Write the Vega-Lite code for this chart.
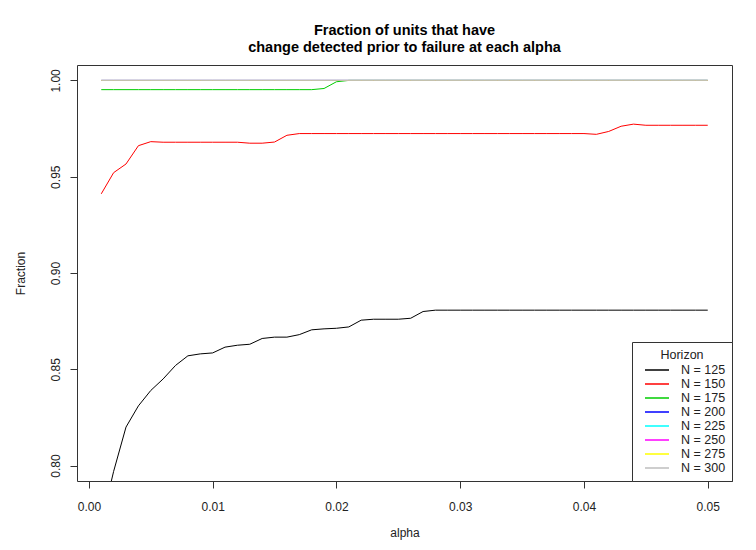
{
  "$schema": "https://vega.github.io/schema/vega-lite/v6.json",
  "width": 655,
  "height": 416,
  "autosize": {"type": "none"},
  "padding": {"left": 77, "top": 65, "right": 24, "bottom": 69},
  "background": "white",
  "title": {
    "text": ["Fraction of units that have", "change detected prior to failure at each alpha"],
    "font": "Liberation Sans", "fontSize": 14.5, "fontWeight": "bold", "color": "black",
    "anchor": "middle", "lineHeight": 17, "offset": 10
  },
  "data": {"values": [
    {"alpha":0.001,"N":"N = 125","fraction":0.770},{"alpha":0.002,"N":"N = 125","fraction":0.797},{"alpha":0.003,"N":"N = 125","fraction":0.820},{"alpha":0.004,"N":"N = 125","fraction":0.831},{"alpha":0.005,"N":"N = 125","fraction":0.839},
    {"alpha":0.006,"N":"N = 125","fraction":0.845},{"alpha":0.007,"N":"N = 125","fraction":0.852},{"alpha":0.008,"N":"N = 125","fraction":0.857},{"alpha":0.009,"N":"N = 125","fraction":0.858},{"alpha":0.010,"N":"N = 125","fraction":0.8585},
    {"alpha":0.011,"N":"N = 125","fraction":0.8615},{"alpha":0.012,"N":"N = 125","fraction":0.8625},{"alpha":0.013,"N":"N = 125","fraction":0.863},{"alpha":0.014,"N":"N = 125","fraction":0.866},{"alpha":0.015,"N":"N = 125","fraction":0.8667},
    {"alpha":0.016,"N":"N = 125","fraction":0.8667},{"alpha":0.017,"N":"N = 125","fraction":0.868},{"alpha":0.018,"N":"N = 125","fraction":0.8705},{"alpha":0.019,"N":"N = 125","fraction":0.871},{"alpha":0.020,"N":"N = 125","fraction":0.8713},
    {"alpha":0.021,"N":"N = 125","fraction":0.872},{"alpha":0.022,"N":"N = 125","fraction":0.8755},{"alpha":0.023,"N":"N = 125","fraction":0.876},{"alpha":0.024,"N":"N = 125","fraction":0.876},{"alpha":0.025,"N":"N = 125","fraction":0.876},
    {"alpha":0.026,"N":"N = 125","fraction":0.8765},{"alpha":0.027,"N":"N = 125","fraction":0.880},{"alpha":0.028,"N":"N = 125","fraction":0.8807},{"alpha":0.029,"N":"N = 125","fraction":0.8807},{"alpha":0.030,"N":"N = 125","fraction":0.8807},
    {"alpha":0.031,"N":"N = 125","fraction":0.8807},{"alpha":0.032,"N":"N = 125","fraction":0.8807},{"alpha":0.033,"N":"N = 125","fraction":0.8807},{"alpha":0.034,"N":"N = 125","fraction":0.8807},{"alpha":0.035,"N":"N = 125","fraction":0.8807},
    {"alpha":0.036,"N":"N = 125","fraction":0.8807},{"alpha":0.037,"N":"N = 125","fraction":0.8807},{"alpha":0.038,"N":"N = 125","fraction":0.8807},{"alpha":0.039,"N":"N = 125","fraction":0.8807},{"alpha":0.040,"N":"N = 125","fraction":0.8807},
    {"alpha":0.041,"N":"N = 125","fraction":0.8807},{"alpha":0.042,"N":"N = 125","fraction":0.8807},{"alpha":0.043,"N":"N = 125","fraction":0.8807},{"alpha":0.044,"N":"N = 125","fraction":0.8807},{"alpha":0.045,"N":"N = 125","fraction":0.8807},
    {"alpha":0.046,"N":"N = 125","fraction":0.8807},{"alpha":0.047,"N":"N = 125","fraction":0.8807},{"alpha":0.048,"N":"N = 125","fraction":0.8807},{"alpha":0.049,"N":"N = 125","fraction":0.8807},{"alpha":0.050,"N":"N = 125","fraction":0.8807},

    {"alpha":0.001,"N":"N = 150","fraction":0.9411},{"alpha":0.002,"N":"N = 150","fraction":0.9521},{"alpha":0.003,"N":"N = 150","fraction":0.9566},{"alpha":0.004,"N":"N = 150","fraction":0.9661},{"alpha":0.005,"N":"N = 150","fraction":0.9682},
    {"alpha":0.006,"N":"N = 150","fraction":0.9679},{"alpha":0.007,"N":"N = 150","fraction":0.9679},{"alpha":0.008,"N":"N = 150","fraction":0.9679},{"alpha":0.009,"N":"N = 150","fraction":0.9679},{"alpha":0.010,"N":"N = 150","fraction":0.9679},
    {"alpha":0.011,"N":"N = 150","fraction":0.9679},{"alpha":0.012,"N":"N = 150","fraction":0.9679},{"alpha":0.013,"N":"N = 150","fraction":0.9674},{"alpha":0.014,"N":"N = 150","fraction":0.9674},{"alpha":0.015,"N":"N = 150","fraction":0.968},
    {"alpha":0.016,"N":"N = 150","fraction":0.9715},{"alpha":0.017,"N":"N = 150","fraction":0.9724},{"alpha":0.018,"N":"N = 150","fraction":0.9724},{"alpha":0.019,"N":"N = 150","fraction":0.9724},{"alpha":0.020,"N":"N = 150","fraction":0.9724},
    {"alpha":0.021,"N":"N = 150","fraction":0.9724},{"alpha":0.022,"N":"N = 150","fraction":0.9724},{"alpha":0.023,"N":"N = 150","fraction":0.9724},{"alpha":0.024,"N":"N = 150","fraction":0.9724},{"alpha":0.025,"N":"N = 150","fraction":0.9724},
    {"alpha":0.026,"N":"N = 150","fraction":0.9724},{"alpha":0.027,"N":"N = 150","fraction":0.9724},{"alpha":0.028,"N":"N = 150","fraction":0.9724},{"alpha":0.029,"N":"N = 150","fraction":0.9724},{"alpha":0.030,"N":"N = 150","fraction":0.9724},
    {"alpha":0.031,"N":"N = 150","fraction":0.9724},{"alpha":0.032,"N":"N = 150","fraction":0.9724},{"alpha":0.033,"N":"N = 150","fraction":0.9724},{"alpha":0.034,"N":"N = 150","fraction":0.9724},{"alpha":0.035,"N":"N = 150","fraction":0.9724},
    {"alpha":0.036,"N":"N = 150","fraction":0.9724},{"alpha":0.037,"N":"N = 150","fraction":0.9724},{"alpha":0.038,"N":"N = 150","fraction":0.9724},{"alpha":0.039,"N":"N = 150","fraction":0.9724},{"alpha":0.040,"N":"N = 150","fraction":0.9724},
    {"alpha":0.041,"N":"N = 150","fraction":0.972},{"alpha":0.042,"N":"N = 150","fraction":0.9735},{"alpha":0.043,"N":"N = 150","fraction":0.9762},{"alpha":0.044,"N":"N = 150","fraction":0.9773},{"alpha":0.045,"N":"N = 150","fraction":0.9767},
    {"alpha":0.046,"N":"N = 150","fraction":0.9767},{"alpha":0.047,"N":"N = 150","fraction":0.9767},{"alpha":0.048,"N":"N = 150","fraction":0.9767},{"alpha":0.049,"N":"N = 150","fraction":0.9767},{"alpha":0.050,"N":"N = 150","fraction":0.9767},

    {"alpha":0.001,"N":"N = 175","fraction":0.9952},{"alpha":0.002,"N":"N = 175","fraction":0.9952},{"alpha":0.003,"N":"N = 175","fraction":0.9952},{"alpha":0.004,"N":"N = 175","fraction":0.9952},{"alpha":0.005,"N":"N = 175","fraction":0.9952},
    {"alpha":0.006,"N":"N = 175","fraction":0.9952},{"alpha":0.007,"N":"N = 175","fraction":0.9952},{"alpha":0.008,"N":"N = 175","fraction":0.9952},{"alpha":0.009,"N":"N = 175","fraction":0.9952},{"alpha":0.010,"N":"N = 175","fraction":0.9952},
    {"alpha":0.011,"N":"N = 175","fraction":0.9952},{"alpha":0.012,"N":"N = 175","fraction":0.9952},{"alpha":0.013,"N":"N = 175","fraction":0.9952},{"alpha":0.014,"N":"N = 175","fraction":0.9952},{"alpha":0.015,"N":"N = 175","fraction":0.9952},
    {"alpha":0.016,"N":"N = 175","fraction":0.9952},{"alpha":0.017,"N":"N = 175","fraction":0.9952},{"alpha":0.018,"N":"N = 175","fraction":0.9952},{"alpha":0.019,"N":"N = 175","fraction":0.9958},{"alpha":0.020,"N":"N = 175","fraction":0.9993},
    {"alpha":0.021,"N":"N = 175","fraction":1.0},{"alpha":0.022,"N":"N = 175","fraction":1.0},{"alpha":0.023,"N":"N = 175","fraction":1.0},{"alpha":0.024,"N":"N = 175","fraction":1.0},{"alpha":0.025,"N":"N = 175","fraction":1.0},
    {"alpha":0.026,"N":"N = 175","fraction":1.0},{"alpha":0.027,"N":"N = 175","fraction":1.0},{"alpha":0.028,"N":"N = 175","fraction":1.0},{"alpha":0.029,"N":"N = 175","fraction":1.0},{"alpha":0.030,"N":"N = 175","fraction":1.0},
    {"alpha":0.031,"N":"N = 175","fraction":1.0},{"alpha":0.032,"N":"N = 175","fraction":1.0},{"alpha":0.033,"N":"N = 175","fraction":1.0},{"alpha":0.034,"N":"N = 175","fraction":1.0},{"alpha":0.035,"N":"N = 175","fraction":1.0},
    {"alpha":0.036,"N":"N = 175","fraction":1.0},{"alpha":0.037,"N":"N = 175","fraction":1.0},{"alpha":0.038,"N":"N = 175","fraction":1.0},{"alpha":0.039,"N":"N = 175","fraction":1.0},{"alpha":0.040,"N":"N = 175","fraction":1.0},
    {"alpha":0.041,"N":"N = 175","fraction":1.0},{"alpha":0.042,"N":"N = 175","fraction":1.0},{"alpha":0.043,"N":"N = 175","fraction":1.0},{"alpha":0.044,"N":"N = 175","fraction":1.0},{"alpha":0.045,"N":"N = 175","fraction":1.0},
    {"alpha":0.046,"N":"N = 175","fraction":1.0},{"alpha":0.047,"N":"N = 175","fraction":1.0},{"alpha":0.048,"N":"N = 175","fraction":1.0},{"alpha":0.049,"N":"N = 175","fraction":1.0},{"alpha":0.050,"N":"N = 175","fraction":1.0},

    {"alpha":0.001,"N":"N = 200","fraction":1.0},{"alpha":0.002,"N":"N = 200","fraction":1.0},{"alpha":0.003,"N":"N = 200","fraction":1.0},{"alpha":0.004,"N":"N = 200","fraction":1.0},{"alpha":0.005,"N":"N = 200","fraction":1.0},
    {"alpha":0.006,"N":"N = 200","fraction":1.0},{"alpha":0.007,"N":"N = 200","fraction":1.0},{"alpha":0.008,"N":"N = 200","fraction":1.0},{"alpha":0.009,"N":"N = 200","fraction":1.0},{"alpha":0.010,"N":"N = 200","fraction":1.0},
    {"alpha":0.011,"N":"N = 200","fraction":1.0},{"alpha":0.012,"N":"N = 200","fraction":1.0},{"alpha":0.013,"N":"N = 200","fraction":1.0},{"alpha":0.014,"N":"N = 200","fraction":1.0},{"alpha":0.015,"N":"N = 200","fraction":1.0},
    {"alpha":0.016,"N":"N = 200","fraction":1.0},{"alpha":0.017,"N":"N = 200","fraction":1.0},{"alpha":0.018,"N":"N = 200","fraction":1.0},{"alpha":0.019,"N":"N = 200","fraction":1.0},{"alpha":0.020,"N":"N = 200","fraction":1.0},
    {"alpha":0.021,"N":"N = 200","fraction":1.0},{"alpha":0.022,"N":"N = 200","fraction":1.0},{"alpha":0.023,"N":"N = 200","fraction":1.0},{"alpha":0.024,"N":"N = 200","fraction":1.0},{"alpha":0.025,"N":"N = 200","fraction":1.0},
    {"alpha":0.026,"N":"N = 200","fraction":1.0},{"alpha":0.027,"N":"N = 200","fraction":1.0},{"alpha":0.028,"N":"N = 200","fraction":1.0},{"alpha":0.029,"N":"N = 200","fraction":1.0},{"alpha":0.030,"N":"N = 200","fraction":1.0},
    {"alpha":0.031,"N":"N = 200","fraction":1.0},{"alpha":0.032,"N":"N = 200","fraction":1.0},{"alpha":0.033,"N":"N = 200","fraction":1.0},{"alpha":0.034,"N":"N = 200","fraction":1.0},{"alpha":0.035,"N":"N = 200","fraction":1.0},
    {"alpha":0.036,"N":"N = 200","fraction":1.0},{"alpha":0.037,"N":"N = 200","fraction":1.0},{"alpha":0.038,"N":"N = 200","fraction":1.0},{"alpha":0.039,"N":"N = 200","fraction":1.0},{"alpha":0.040,"N":"N = 200","fraction":1.0},
    {"alpha":0.041,"N":"N = 200","fraction":1.0},{"alpha":0.042,"N":"N = 200","fraction":1.0},{"alpha":0.043,"N":"N = 200","fraction":1.0},{"alpha":0.044,"N":"N = 200","fraction":1.0},{"alpha":0.045,"N":"N = 200","fraction":1.0},
    {"alpha":0.046,"N":"N = 200","fraction":1.0},{"alpha":0.047,"N":"N = 200","fraction":1.0},{"alpha":0.048,"N":"N = 200","fraction":1.0},{"alpha":0.049,"N":"N = 200","fraction":1.0},{"alpha":0.050,"N":"N = 200","fraction":1.0},

    {"alpha":0.001,"N":"N = 225","fraction":1.0},{"alpha":0.002,"N":"N = 225","fraction":1.0},{"alpha":0.003,"N":"N = 225","fraction":1.0},{"alpha":0.004,"N":"N = 225","fraction":1.0},{"alpha":0.005,"N":"N = 225","fraction":1.0},
    {"alpha":0.006,"N":"N = 225","fraction":1.0},{"alpha":0.007,"N":"N = 225","fraction":1.0},{"alpha":0.008,"N":"N = 225","fraction":1.0},{"alpha":0.009,"N":"N = 225","fraction":1.0},{"alpha":0.010,"N":"N = 225","fraction":1.0},
    {"alpha":0.011,"N":"N = 225","fraction":1.0},{"alpha":0.012,"N":"N = 225","fraction":1.0},{"alpha":0.013,"N":"N = 225","fraction":1.0},{"alpha":0.014,"N":"N = 225","fraction":1.0},{"alpha":0.015,"N":"N = 225","fraction":1.0},
    {"alpha":0.016,"N":"N = 225","fraction":1.0},{"alpha":0.017,"N":"N = 225","fraction":1.0},{"alpha":0.018,"N":"N = 225","fraction":1.0},{"alpha":0.019,"N":"N = 225","fraction":1.0},{"alpha":0.020,"N":"N = 225","fraction":1.0},
    {"alpha":0.021,"N":"N = 225","fraction":1.0},{"alpha":0.022,"N":"N = 225","fraction":1.0},{"alpha":0.023,"N":"N = 225","fraction":1.0},{"alpha":0.024,"N":"N = 225","fraction":1.0},{"alpha":0.025,"N":"N = 225","fraction":1.0},
    {"alpha":0.026,"N":"N = 225","fraction":1.0},{"alpha":0.027,"N":"N = 225","fraction":1.0},{"alpha":0.028,"N":"N = 225","fraction":1.0},{"alpha":0.029,"N":"N = 225","fraction":1.0},{"alpha":0.030,"N":"N = 225","fraction":1.0},
    {"alpha":0.031,"N":"N = 225","fraction":1.0},{"alpha":0.032,"N":"N = 225","fraction":1.0},{"alpha":0.033,"N":"N = 225","fraction":1.0},{"alpha":0.034,"N":"N = 225","fraction":1.0},{"alpha":0.035,"N":"N = 225","fraction":1.0},
    {"alpha":0.036,"N":"N = 225","fraction":1.0},{"alpha":0.037,"N":"N = 225","fraction":1.0},{"alpha":0.038,"N":"N = 225","fraction":1.0},{"alpha":0.039,"N":"N = 225","fraction":1.0},{"alpha":0.040,"N":"N = 225","fraction":1.0},
    {"alpha":0.041,"N":"N = 225","fraction":1.0},{"alpha":0.042,"N":"N = 225","fraction":1.0},{"alpha":0.043,"N":"N = 225","fraction":1.0},{"alpha":0.044,"N":"N = 225","fraction":1.0},{"alpha":0.045,"N":"N = 225","fraction":1.0},
    {"alpha":0.046,"N":"N = 225","fraction":1.0},{"alpha":0.047,"N":"N = 225","fraction":1.0},{"alpha":0.048,"N":"N = 225","fraction":1.0},{"alpha":0.049,"N":"N = 225","fraction":1.0},{"alpha":0.050,"N":"N = 225","fraction":1.0},

    {"alpha":0.001,"N":"N = 250","fraction":1.0},{"alpha":0.002,"N":"N = 250","fraction":1.0},{"alpha":0.003,"N":"N = 250","fraction":1.0},{"alpha":0.004,"N":"N = 250","fraction":1.0},{"alpha":0.005,"N":"N = 250","fraction":1.0},
    {"alpha":0.006,"N":"N = 250","fraction":1.0},{"alpha":0.007,"N":"N = 250","fraction":1.0},{"alpha":0.008,"N":"N = 250","fraction":1.0},{"alpha":0.009,"N":"N = 250","fraction":1.0},{"alpha":0.010,"N":"N = 250","fraction":1.0},
    {"alpha":0.011,"N":"N = 250","fraction":1.0},{"alpha":0.012,"N":"N = 250","fraction":1.0},{"alpha":0.013,"N":"N = 250","fraction":1.0},{"alpha":0.014,"N":"N = 250","fraction":1.0},{"alpha":0.015,"N":"N = 250","fraction":1.0},
    {"alpha":0.016,"N":"N = 250","fraction":1.0},{"alpha":0.017,"N":"N = 250","fraction":1.0},{"alpha":0.018,"N":"N = 250","fraction":1.0},{"alpha":0.019,"N":"N = 250","fraction":1.0},{"alpha":0.020,"N":"N = 250","fraction":1.0},
    {"alpha":0.021,"N":"N = 250","fraction":1.0},{"alpha":0.022,"N":"N = 250","fraction":1.0},{"alpha":0.023,"N":"N = 250","fraction":1.0},{"alpha":0.024,"N":"N = 250","fraction":1.0},{"alpha":0.025,"N":"N = 250","fraction":1.0},
    {"alpha":0.026,"N":"N = 250","fraction":1.0},{"alpha":0.027,"N":"N = 250","fraction":1.0},{"alpha":0.028,"N":"N = 250","fraction":1.0},{"alpha":0.029,"N":"N = 250","fraction":1.0},{"alpha":0.030,"N":"N = 250","fraction":1.0},
    {"alpha":0.031,"N":"N = 250","fraction":1.0},{"alpha":0.032,"N":"N = 250","fraction":1.0},{"alpha":0.033,"N":"N = 250","fraction":1.0},{"alpha":0.034,"N":"N = 250","fraction":1.0},{"alpha":0.035,"N":"N = 250","fraction":1.0},
    {"alpha":0.036,"N":"N = 250","fraction":1.0},{"alpha":0.037,"N":"N = 250","fraction":1.0},{"alpha":0.038,"N":"N = 250","fraction":1.0},{"alpha":0.039,"N":"N = 250","fraction":1.0},{"alpha":0.040,"N":"N = 250","fraction":1.0},
    {"alpha":0.041,"N":"N = 250","fraction":1.0},{"alpha":0.042,"N":"N = 250","fraction":1.0},{"alpha":0.043,"N":"N = 250","fraction":1.0},{"alpha":0.044,"N":"N = 250","fraction":1.0},{"alpha":0.045,"N":"N = 250","fraction":1.0},
    {"alpha":0.046,"N":"N = 250","fraction":1.0},{"alpha":0.047,"N":"N = 250","fraction":1.0},{"alpha":0.048,"N":"N = 250","fraction":1.0},{"alpha":0.049,"N":"N = 250","fraction":1.0},{"alpha":0.050,"N":"N = 250","fraction":1.0},

    {"alpha":0.001,"N":"N = 275","fraction":1.0},{"alpha":0.002,"N":"N = 275","fraction":1.0},{"alpha":0.003,"N":"N = 275","fraction":1.0},{"alpha":0.004,"N":"N = 275","fraction":1.0},{"alpha":0.005,"N":"N = 275","fraction":1.0},
    {"alpha":0.006,"N":"N = 275","fraction":1.0},{"alpha":0.007,"N":"N = 275","fraction":1.0},{"alpha":0.008,"N":"N = 275","fraction":1.0},{"alpha":0.009,"N":"N = 275","fraction":1.0},{"alpha":0.010,"N":"N = 275","fraction":1.0},
    {"alpha":0.011,"N":"N = 275","fraction":1.0},{"alpha":0.012,"N":"N = 275","fraction":1.0},{"alpha":0.013,"N":"N = 275","fraction":1.0},{"alpha":0.014,"N":"N = 275","fraction":1.0},{"alpha":0.015,"N":"N = 275","fraction":1.0},
    {"alpha":0.016,"N":"N = 275","fraction":1.0},{"alpha":0.017,"N":"N = 275","fraction":1.0},{"alpha":0.018,"N":"N = 275","fraction":1.0},{"alpha":0.019,"N":"N = 275","fraction":1.0},{"alpha":0.020,"N":"N = 275","fraction":1.0},
    {"alpha":0.021,"N":"N = 275","fraction":1.0},{"alpha":0.022,"N":"N = 275","fraction":1.0},{"alpha":0.023,"N":"N = 275","fraction":1.0},{"alpha":0.024,"N":"N = 275","fraction":1.0},{"alpha":0.025,"N":"N = 275","fraction":1.0},
    {"alpha":0.026,"N":"N = 275","fraction":1.0},{"alpha":0.027,"N":"N = 275","fraction":1.0},{"alpha":0.028,"N":"N = 275","fraction":1.0},{"alpha":0.029,"N":"N = 275","fraction":1.0},{"alpha":0.030,"N":"N = 275","fraction":1.0},
    {"alpha":0.031,"N":"N = 275","fraction":1.0},{"alpha":0.032,"N":"N = 275","fraction":1.0},{"alpha":0.033,"N":"N = 275","fraction":1.0},{"alpha":0.034,"N":"N = 275","fraction":1.0},{"alpha":0.035,"N":"N = 275","fraction":1.0},
    {"alpha":0.036,"N":"N = 275","fraction":1.0},{"alpha":0.037,"N":"N = 275","fraction":1.0},{"alpha":0.038,"N":"N = 275","fraction":1.0},{"alpha":0.039,"N":"N = 275","fraction":1.0},{"alpha":0.040,"N":"N = 275","fraction":1.0},
    {"alpha":0.041,"N":"N = 275","fraction":1.0},{"alpha":0.042,"N":"N = 275","fraction":1.0},{"alpha":0.043,"N":"N = 275","fraction":1.0},{"alpha":0.044,"N":"N = 275","fraction":1.0},{"alpha":0.045,"N":"N = 275","fraction":1.0},
    {"alpha":0.046,"N":"N = 275","fraction":1.0},{"alpha":0.047,"N":"N = 275","fraction":1.0},{"alpha":0.048,"N":"N = 275","fraction":1.0},{"alpha":0.049,"N":"N = 275","fraction":1.0},{"alpha":0.050,"N":"N = 275","fraction":1.0},

    {"alpha":0.001,"N":"N = 300","fraction":1.0},{"alpha":0.002,"N":"N = 300","fraction":1.0},{"alpha":0.003,"N":"N = 300","fraction":1.0},{"alpha":0.004,"N":"N = 300","fraction":1.0},{"alpha":0.005,"N":"N = 300","fraction":1.0},
    {"alpha":0.006,"N":"N = 300","fraction":1.0},{"alpha":0.007,"N":"N = 300","fraction":1.0},{"alpha":0.008,"N":"N = 300","fraction":1.0},{"alpha":0.009,"N":"N = 300","fraction":1.0},{"alpha":0.010,"N":"N = 300","fraction":1.0},
    {"alpha":0.011,"N":"N = 300","fraction":1.0},{"alpha":0.012,"N":"N = 300","fraction":1.0},{"alpha":0.013,"N":"N = 300","fraction":1.0},{"alpha":0.014,"N":"N = 300","fraction":1.0},{"alpha":0.015,"N":"N = 300","fraction":1.0},
    {"alpha":0.016,"N":"N = 300","fraction":1.0},{"alpha":0.017,"N":"N = 300","fraction":1.0},{"alpha":0.018,"N":"N = 300","fraction":1.0},{"alpha":0.019,"N":"N = 300","fraction":1.0},{"alpha":0.020,"N":"N = 300","fraction":1.0},
    {"alpha":0.021,"N":"N = 300","fraction":1.0},{"alpha":0.022,"N":"N = 300","fraction":1.0},{"alpha":0.023,"N":"N = 300","fraction":1.0},{"alpha":0.024,"N":"N = 300","fraction":1.0},{"alpha":0.025,"N":"N = 300","fraction":1.0},
    {"alpha":0.026,"N":"N = 300","fraction":1.0},{"alpha":0.027,"N":"N = 300","fraction":1.0},{"alpha":0.028,"N":"N = 300","fraction":1.0},{"alpha":0.029,"N":"N = 300","fraction":1.0},{"alpha":0.030,"N":"N = 300","fraction":1.0},
    {"alpha":0.031,"N":"N = 300","fraction":1.0},{"alpha":0.032,"N":"N = 300","fraction":1.0},{"alpha":0.033,"N":"N = 300","fraction":1.0},{"alpha":0.034,"N":"N = 300","fraction":1.0},{"alpha":0.035,"N":"N = 300","fraction":1.0},
    {"alpha":0.036,"N":"N = 300","fraction":1.0},{"alpha":0.037,"N":"N = 300","fraction":1.0},{"alpha":0.038,"N":"N = 300","fraction":1.0},{"alpha":0.039,"N":"N = 300","fraction":1.0},{"alpha":0.040,"N":"N = 300","fraction":1.0},
    {"alpha":0.041,"N":"N = 300","fraction":1.0},{"alpha":0.042,"N":"N = 300","fraction":1.0},{"alpha":0.043,"N":"N = 300","fraction":1.0},{"alpha":0.044,"N":"N = 300","fraction":1.0},{"alpha":0.045,"N":"N = 300","fraction":1.0},
    {"alpha":0.046,"N":"N = 300","fraction":1.0},{"alpha":0.047,"N":"N = 300","fraction":1.0},{"alpha":0.048,"N":"N = 300","fraction":1.0},{"alpha":0.049,"N":"N = 300","fraction":1.0},{"alpha":0.050,"N":"N = 300","fraction":1.0}
  ]},
  "mark": {"type": "line", "clip": true, "strokeWidth": 1},
  "encoding": {
    "x": {
      "field": "alpha", "type": "quantitative",
      "scale": {"domain": [-0.00096, 0.05196], "nice": false, "zero": false},
      "axis": {"values": [0, 0.01, 0.02, 0.03, 0.04, 0.05], "format": ".2f", "title": "alpha", "labelPadding": 13, "titlePadding": 15}
    },
    "y": {
      "field": "fraction", "type": "quantitative",
      "scale": {"domain": [0.792, 1.008], "nice": false, "zero": false},
      "axis": {"values": [0.8, 0.85, 0.9, 0.95, 1.0], "format": ".2f", "title": "Fraction", "labelAngle": 270, "labelAlign": "center", "labelBaseline": "bottom", "labelPadding": 8, "titlePadding": 22}
    },
    "color": {
      "field": "N", "type": "nominal",
      "scale": {
        "domain": ["N = 125", "N = 150", "N = 175", "N = 200", "N = 225", "N = 250", "N = 275", "N = 300"],
        "range": ["#000000", "#FF0000", "#00CD00", "#0000FF", "#00FFFF", "#FF00FF", "#FFFF00", "#BEBEBE"]
      },
      "legend": {"title": "Horizon"}
    }
  },
  "config": {
    "view": {"stroke": "#333333", "strokeWidth": 1},
    "axis": {
      "labelFont": "Liberation Sans", "labelFontSize": 12, "labelColor": "#222222",
      "titleFont": "Liberation Sans", "titleFontSize": 12, "titleFontWeight": "normal", "titleColor": "#222222",
      "tickColor": "#333333", "tickSize": 7, "domain": false, "grid": false
    },
    "legend": {
      "orient": "bottom-right", "offset": 0, "strokeColor": "#333333", "fillColor": "white", "padding": 6,
      "symbolType": "M-2,0H2", "symbolSize": 144, "symbolStrokeWidth": 1.5, "symbolOffset": 12, "labelOffset": 17,
      "labelFont": "Liberation Sans", "labelFontSize": 12.5, "labelColor": "#222222",
      "titleFont": "Liberation Sans", "titleFontSize": 12.5, "titleFontWeight": "normal", "titleColor": "#222222",
      "titleAnchor": "middle", "titlePadding": 2.5, "titleBaseline": "line-top", "titleLineHeight": 14.5, "rowPadding": 0
    }
  }
}
